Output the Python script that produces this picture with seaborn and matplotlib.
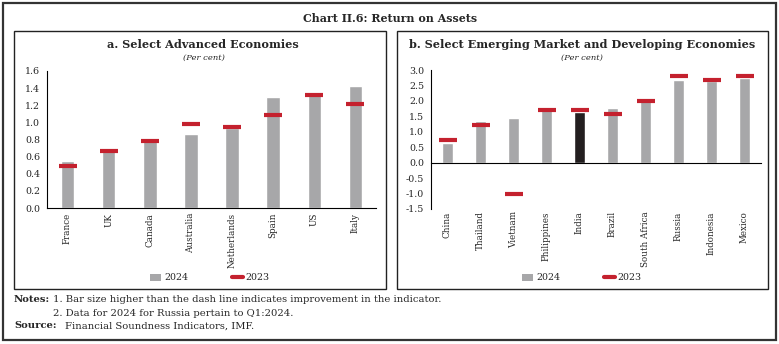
import matplotlib
matplotlib.use("Agg")
import matplotlib.pyplot as plt
from matplotlib.patches import Rectangle, Patch
from matplotlib.lines import Line2D
import seaborn as sns
import pandas as pd
import numpy as np

# ---- data ----
adv_countries = ["France", "UK", "Canada", "Australia", "Netherlands", "Spain", "US", "Italy"]
adv_2024 = [0.55, 0.70, 0.81, 0.87, 0.93, 1.30, 1.35, 1.43]
adv_2023 = [0.49, 0.67, 0.78, 0.98, 0.95, 1.09, 1.32, 1.22]

eme_countries = ["China", "Thailand", "Vietnam", "Philippines", "India", "Brazil",
                 "South Africa", "Russia", "Indonesia", "Mexico"]
eme_2024 = [0.65, 1.35, 1.43, 1.70, 1.65, 1.78, 2.10, 2.68, 2.65, 2.75]
eme_2023 = [0.72, 1.22, -1.03, 1.72, 1.72, 1.58, 2.00, 2.80, 2.69, 2.80]

adv_yticks = [0.0, 0.2, 0.4, 0.6, 0.8, 1.0, 1.2, 1.4, 1.6]
eme_yticks = [-1.5, -1.0, -0.5, 0.0, 0.5, 1.0, 1.5, 2.0, 2.5, 3.0]

GRAY = "#A7A7A9"
BLACK = "#231F20"
RED = "#C4212E"

sns.set_style("white")
plt.rcParams["font.family"] = ["DejaVu Serif"]

fig = plt.figure(figsize=(7.79, 3.44), dpi=100)
W, H = 779, 344

def fx(px):
    return px / W

def fy(py):
    return 1 - py / H

def panel(rect, cats, v24, v23, yticks, highlight, label_pad, zero_spine, msize):
    ax = fig.add_axes(rect)
    df = pd.DataFrame({"country": cats, "value": v24})
    colors = [BLACK if c == highlight else GRAY for c in cats]
    sns.barplot(data=df, x="country", y="value", hue="country", palette=colors,
                legend=False, width=0.33, ax=ax, saturation=1)
    ax.plot(np.arange(len(cats)), v23, linestyle="none", marker="_",
            markersize=msize, markeredgewidth=3.0, color=RED, zorder=5)
    for s in ["top", "right"]:
        ax.spines[s].set_visible(False)
    for s in ["left", "bottom"]:
        ax.spines[s].set_color("black")
        ax.spines[s].set_linewidth(0.8)
    if zero_spine:
        ax.spines["bottom"].set_position(("data", 0))
    ax.set_xlim(-0.5, len(cats) - 0.5)
    ax.set_ylim(yticks[0], yticks[-1])
    ax.set_yticks(yticks)
    ax.set_yticklabels([f"{t:.1f}" for t in yticks], fontsize=6.8)
    ax.set_xticks(np.arange(len(cats)))
    ax.set_xticklabels(cats, rotation=90, fontsize=6.3, va="top")
    ax.set_xticks(np.arange(len(cats) + 1) - 0.5, minor=True)
    ax.tick_params(axis="x", which="major", length=0, pad=label_pad)
    ax.tick_params(axis="x", which="minor", length=4, width=0.8, direction="out", color="black")
    ax.tick_params(axis="y", which="major", length=3, width=0.8, direction="out", color="black", pad=2)
    ax.set_xlabel("")
    ax.set_ylabel("")
    ax.patch.set_alpha(0)
    return ax

ax1 = panel([fx(47), fy(208), fx(376 - 47), (208 - 71) / H], adv_countries, adv_2024, adv_2023,
            adv_yticks, None, 3.5, False, 13.5)
ax2 = panel([fx(431), fy(209), fx(761 - 431), (209 - 70) / H], eme_countries, eme_2024, eme_2023,
            eme_yticks, "India", 35, True, 12.8)

# panel boxes
for x0, x1 in [(14, 386), (397, 768)]:
    fig.patches.append(Rectangle((fx(x0), fy(289)), fx(x1 - x0), (289 - 31) / H,
                                 transform=fig.transFigure, fill=False,
                                 edgecolor="#222222", linewidth=1.0))
# outer border
fig.patches.append(Rectangle((fx(3), fy(340)), fx(773), 337 / H, transform=fig.transFigure,
                             fill=False, edgecolor="#333333", linewidth=1.6))

fig.text(fx(390), fy(19), "Chart II.6: Return on Assets", ha="center", va="center",
         fontsize=7.9, fontweight="bold")
fig.text(fx(203), fy(44), "a. Select Advanced Economies", ha="center", va="center",
         fontsize=8.1, fontweight="bold")
fig.text(fx(582), fy(44), "b. Select Emerging Market and Developing Economies", ha="center",
         va="center", fontsize=8.1, fontweight="bold")
for cx in (204, 582):
    fig.text(fx(cx), fy(58), "(Per cent)", ha="center", va="center", fontsize=6, style="italic")

# legends
handles = [Patch(facecolor=GRAY, edgecolor="none", label="2024"),
           Line2D([0], [0], color=RED, linewidth=3, label="2023")]
for cx in (210, 582):
    fig.legend(handles=handles, loc="center", bbox_to_anchor=(fx(cx), fy(278)), ncol=2,
               frameon=False, fontsize=6.8, columnspacing=4.6, handlelength=1.2,
               handletextpad=0.3, handleheight=0.8)

# notes
fs = 7.2
fig.text(fx(14), fy(299), "Notes:", fontsize=fs, fontweight="bold", va="center")
fig.text(fx(53), fy(299), "1. Bar size higher than the dash line indicates improvement in the indicator.",
         fontsize=fs, va="center")
fig.text(fx(53), fy(313), "2. Data for 2024 for Russia pertain to Q1:2024.", fontsize=fs,
         va="center")
fig.text(fx(14), fy(326), "Source:", fontsize=fs, fontweight="bold", va="center")
fig.text(fx(65), fy(326), "Financial Soundness Indicators, IMF.", fontsize=fs, va="center")

fig.savefig("out.png", dpi=100)
